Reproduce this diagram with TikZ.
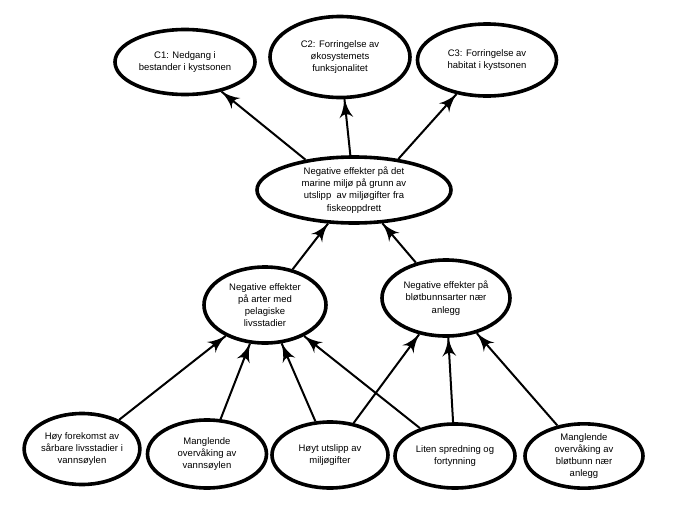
\documentclass[tikz,border=0pt]{standalone}
\usepackage{fontspec}
\setmainfont{Liberation Sans}
\usepackage{tikz}
\usetikzlibrary{arrows}
\usetikzlibrary{decorations.markings}
\usetikzlibrary{shapes.geometric}
\tikzset{->/.style = {decoration={markings,
                                  mark=at position 1 with {\arrow[scale=2.1]{latex'}}},
                      postaction={decorate}}}
\tikzset{oval/.style = {ellipse, draw, line width=3.6pt, align=center, inner sep=0pt,
                        font=\fontsize{9.5}{12.2}\selectfont}}
\begin{document}
\begin{tikzpicture}[x=1pt, y=-1pt, line width=2pt]
    \useasboundingbox (0, 0) rectangle (673, 517);

    \node [oval, minimum width=140, minimum height=65] (c1) at (185, 62) {C1: Nedgang i\\bestander i kystsonen};
    \node [oval, minimum width=140, minimum height=81] (c2) at (340, 57) {C2: Forringelse av\\økosystemets\\funksjonalitet};
    \node [oval, minimum width=139, minimum height=72] (c3) at (487, 60) {C3: Forringelse av\\habitat i kystsonen};

    \node [oval, minimum width=194, minimum height=66] (miljo) at (354, 190) {Negative effekter på det\\marine miljø på grunn av\\utslipp~ av miljøgifter fra\\fiskeoppdrett};

    \node [oval, minimum width=122, minimum height=76] (pelagisk) at (265, 305) {Negative effekter\\på arter med\\pelagiske\\livsstadier};
    \node [oval, minimum width=128, minimum height=76] (blotbunn) at (446, 298) {Negative effekter på\\bløtbunnsarter nær\\anlegg};

    \node [oval, minimum width=115, minimum height=71] (b1) at (82, 449) {Høy forekomst av\\sårbare livsstadier i\\vannsøylen};
    \node [oval, minimum width=119, minimum height=68] (b2) at (207, 454) {Manglende\\overvåking av\\vannsøylen};
    \node [oval, minimum width=116, minimum height=66] (b3) at (330, 455) {Høyt utslipp av\\miljøgifter};
    \node [oval, minimum width=120, minimum height=64] (b4) at (455, 456) {Liten spredning og\\fortynning};
    \node [oval, minimum width=118, minimum height=64] (b5) at (584, 456) {Manglende\\overvåking av\\bløtbunn nær\\anlegg};

    \draw [->] (miljo.148) -- (c1);
    \draw [->] (miljo) -- (c2);
    \draw [->] (miljo.35) -- (c3);

    \draw [->] (pelagisk) -- (miljo);
    \draw [->] (blotbunn) -- (miljo);

    \draw [->] (b1) -- (pelagisk);
    \draw [->] (b2) -- (pelagisk);
    \draw [->] (b3) -- (pelagisk);
    \draw [->] (b4) -- (pelagisk);
    \draw [->] (b3) -- (blotbunn);
    \draw [->] (b4) -- (blotbunn);
    \draw [->] (b5) -- (blotbunn);
\end{tikzpicture}
\end{document}
